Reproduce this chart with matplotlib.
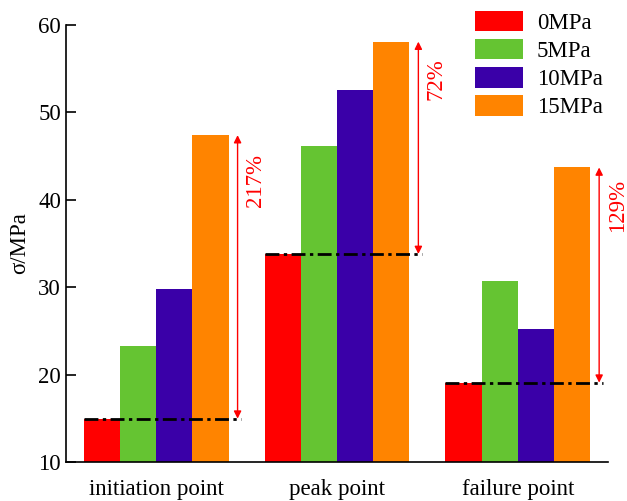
import numpy as np
import matplotlib.pyplot as plt

plt.rcParams['font.family'] = ['Liberation Serif', 'DejaVu Serif']

categories = ['initiation point', 'peak point', 'failure point']
series_names = ['0MPa', '5MPa', '10MPa', '15MPa']
values = [
    [14.95, 33.8, 19.07],
    [23.3, 46.2, 30.7],
    [29.8, 52.6, 25.2],
    [47.4, 58.1, 43.7],
]
increase_labels = ['217%', '72%', '129%']
label_y = [42.2, 53.8, 39.3]
colors = ['#ff0000', '#65c432', '#3a00a8', '#ff8400']

fig = plt.figure(figsize=(6.27, 5.01), dpi=100)
ax = fig.add_axes([0.105, 0.078, 0.865, 0.872])

x = np.arange(len(categories))
w = 0.2
for i in range(len(series_names)):
    ax.bar(x + (i - 1.5) * w, values[i], width=w, bottom=0, color=colors[i],
           label=series_names[i], zorder=2)

for k in range(len(categories)):
    base = values[0][k]
    top = values[3][k]
    ax.plot([x[k] - 0.4, x[k] + 0.47], [base, base], color='k', lw=2,
            linestyle=(0, (5, 1.6, 1.2, 1.6)), zorder=3)
    ax.annotate('', xy=(x[k] + 0.45, top), xytext=(x[k] + 0.45, base),
                arrowprops=dict(arrowstyle='<|-|>', color='red', lw=1,
                                mutation_scale=11, shrinkA=0, shrinkB=0))
    ax.text(x[k] + 0.55, label_y[k], increase_labels[k], color='red',
            fontsize=16.5, rotation=90, ha='center', va='center')

ax.set_xlim(-0.5, 2.5)
ax.set_ylim(10, 60)
ax.set_yticks([10, 20, 30, 40, 50, 60])
ax.set_xticks(x)
ax.set_xticklabels(categories)
ax.tick_params(axis='x', length=0, labelsize=16.5, pad=12)
ax.tick_params(axis='y', direction='in', length=7, width=1.2, labelsize=16.5)
ax.set_ylabel('σ/MPa', fontsize=16.5, labelpad=6)
for s in ['top', 'right']:
    ax.spines[s].set_visible(False)
ax.spines['left'].set_linewidth(1.2)
ax.spines['bottom'].set_linewidth(1.2)

ax.legend(loc='upper right', bbox_to_anchor=(1.028, 1.08), frameon=False,
          fontsize=16.5, handlelength=2.1, handleheight=1.0,
          labelspacing=0.22, handletextpad=0.6)

fig.savefig('out.png')
